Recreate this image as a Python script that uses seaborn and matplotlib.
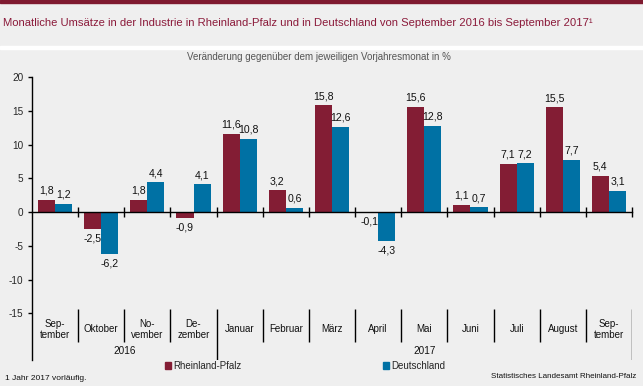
import matplotlib
matplotlib.use("Agg")
import matplotlib.pyplot as plt
import seaborn as sns
import pandas as pd
from matplotlib.patches import Rectangle

# ---- data ----
months = ["Sep-\ntember", "Oktober", "No-\nvember", "De-\nzember", "Januar", "Februar",
          "März", "April", "Mai", "Juni", "Juli", "August", "Sep-\ntember"]
years = ["2016", "2017"]
year_first = [0, 4]
year_last = [3, 12]
rlp = [1.8, -2.5, 1.8, -0.9, 11.6, 3.2, 15.8, -0.1, 15.6, 1.1, 7.1, 15.5, 5.4]
de = [1.2, -6.2, 4.4, 4.1, 10.8, 0.6, 12.6, -4.3, 12.8, 0.7, 7.2, 7.7, 3.1]
series = ["Rheinland-Pfalz", "Deutschland"]
yticks = [-15, -10, -5, 0, 5, 10, 15, 20]

title = ("Monatliche Umsätze in der Industrie in Rheinland-Pfalz und in Deutschland "
         "von September 2016 bis September 2017\u00b9")
subtitle = "Veränderung gegenüber dem jeweiligen Vorjahresmonat in %"
footnote = "1 Jahr 2017 vorläufig."
source = "Statistisches Landesamt Rheinland-Pfalz"

colors = ["#831d34", "#0071a4"]
bg = "#efefef"

sns.set_theme(style="white")
plt.rcParams["font.family"] = ["Liberation Sans", "DejaVu Sans"]
plt.rcParams["axes.unicode_minus"] = False

W, H = 643, 386
fig = plt.figure(figsize=(W / 100, H / 100), dpi=100, facecolor=bg)

def fy(px):
    return 1 - px / H

# decorative bands
fig.patches.append(Rectangle((0, fy(2.5)), 1, 2.5 / H, transform=fig.transFigure,
                             color="#7f1a30", zorder=0))
fig.patches.append(Rectangle((0, fy(48.5)), 1, 2.5 / H, transform=fig.transFigure,
                             color="white", zorder=0))

ax = fig.add_axes([32 / W, fy(360), (632 - 32) / W, (360 - 77) / H])
ax.set_facecolor(bg)

n = len(months)
df = pd.DataFrame({
    "idx": list(range(n)) * 2,
    "value": rlp + de,
    "series": [series[0]] * n + [series[1]] * n,
})

sns.barplot(data=df, x="idx", y="value", hue="series", hue_order=series,
            palette=colors, width=0.74, saturation=1, errorbar=None,
            linewidth=0, ax=ax, legend=False, order=list(range(n)))

for cont, vals in zip(ax.containers, [rlp, de]):
    ax.bar_label(cont, labels=[f"{v:.1f}".replace(".", ",") for v in vals],
                 padding=3, fontsize=7.6, color="#111111")

ax.set_xlim(-0.5, n - 0.5)
ax.set_ylim(-21.9, 20)
ax.set_xlabel("")
ax.set_ylabel("")

for s in ["top", "right"]:
    ax.spines[s].set_visible(False)
ax.spines["bottom"].set_position(("data", 0))
ax.spines["bottom"].set_linewidth(1.0)
ax.spines["bottom"].set_color("black")
ax.spines["left"].set_linewidth(1.0)
ax.spines["left"].set_color("black")

ax.set_yticks(yticks)
ax.set_yticklabels([str(t) for t in yticks])
ax.tick_params(axis="y", direction="out", length=3, width=1, color="black",
               labelsize=7.2, pad=3, left=True)

ax.set_xticks([])
ax.set_xticks([k - 0.5 for k in range(1, n + 1)], minor=True)
ax.tick_params(axis="x", which="minor", direction="inout", length=7, width=1,
               color="black", bottom=True, labelbottom=False)

# category labels and separators in the label zone
for i, m in enumerate(months):
    ax.text(i, -17.35, m, ha="center", va="center", fontsize=7, linespacing=1.15,
            color="#111111")
year_bounds = [b + 0.5 for b in year_last]
for k in range(1, n):
    b = k - 0.5
    bottom = -21.9 if b in year_bounds else -19.3
    ax.vlines(b, -14.4, bottom, color="black", linewidth=1)
ax.vlines(n - 0.5, -14.4, -21.9, color="black", linewidth=1)
for y, a, b in zip(years, year_first, year_last):
    ax.text((a + b) / 2, -20.6, y, ha="center", va="center", fontsize=7.2,
            color="#111111")

# texts
fig.text(3 / W, fy(23), title, color="#8b1a3a", fontsize=8.1, va="center", ha="left")
fig.text(319 / W, fy(57), subtitle, color="#555555", fontsize=7.0, va="center",
         ha="center")
fig.text(5 / W, fy(379), footnote, color="#111111", fontsize=6.0, va="center",
         ha="left")
fig.text(636 / W, fy(377), source, color="#111111", fontsize=5.8, va="center",
         ha="right")

handles = [Rectangle((0, 0), 1, 1, color=c) for c in colors]
fig.legend(handles, series, ncol=2, loc="center left",
           bbox_to_anchor=(165 / W, fy(366)), frameon=False, fontsize=7,
           handlelength=0.6, handleheight=0.6, handletextpad=0.3,
           columnspacing=14.5, borderpad=0, borderaxespad=0)

fig.savefig("out.png", dpi=100, facecolor=bg)
